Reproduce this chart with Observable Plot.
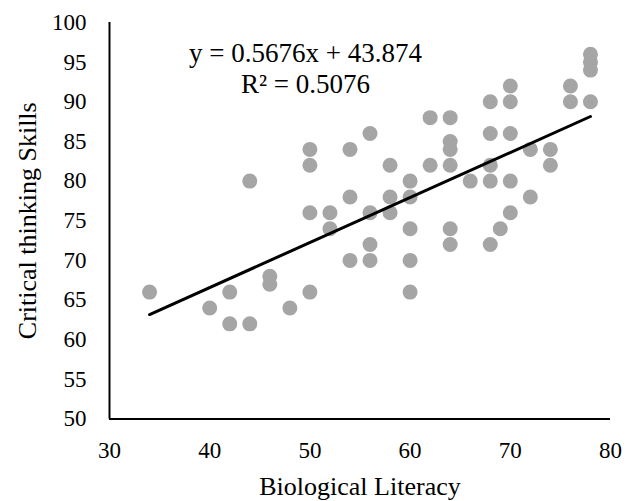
<!DOCTYPE html>
<html><head><meta charset="utf-8">
<script src="https://cdn.jsdelivr.net/npm/d3@7"></script>
<script src="https://cdn.jsdelivr.net/npm/@observablehq/plot@0.6"></script>
<style>body{margin:0;background:#fff}</style>
</head><body><div id="chart"></div>
<script>
const literacy = [34,40,42,42,44,44,46,46,48,50,50,50,50,52,52,54,54,54,56,56,56,56,58,58,58,60,60,60,60,60,62,62,64,64,64,64,64,64,66,68,68,68,68,68,69,70,70,70,70,70,72,72,74,74,76,76,78,78,78,78];
const thinking = [66,64,66,62,80,62,68,67,64,84,82,76,66,76,74,84,78,70,86,76,72,70,82,78,76,80,78,74,70,66,88,82,88,85,84,82,74,72,80,90,86,82,80,72,74,92,90,86,80,76,84,78,84,82,92,90,96,95,94,90];
const xTicks = [30,40,50,60,70,80];
const yTicks = [50,55,60,65,70,75,80,85,90,95,100];
const slope = 0.5676, intercept = 43.874, r2 = 0.5076;
const xTitle = "Biological Literacy";
const yTitle = "Critical thinking Skills";
const eqText = "y = 0.5676x + 43.874";
const r2Text = "R\u00B2 = 0.5076";

const data = literacy.map((x, i) => ({x, y: thinking[i]}));
const xExt = d3.extent(literacy);
const trend = xExt.map(x => ({x, y: slope * x + intercept}));

const chart = Plot.plot({
  width: 638, height: 501,
  marginLeft: 109, marginRight: 28, marginTop: 22, marginBottom: 82.5,
  style: {fontFamily: "'Liberation Serif', 'Times New Roman', serif", fontSize: "23px", color: "black", background: "white"},
  x: {domain: [30, 80]},
  y: {domain: [50, 100]},
  marks: [
    Plot.axisX({ticks: xTicks, tickSize: 0, tickPadding: 23, label: null}),
    Plot.axisY({ticks: yTicks, tickSize: 0, tickPadding: 23, label: null}),
    Plot.dot(data, {x: "x", y: "y", r: 7.5, fill: "#A5A5A5", stroke: "none"}),
    Plot.line(trend, {x: "x", y: "y", stroke: "black", strokeWidth: 3}),
    Plot.ruleX([30], {stroke: "black", strokeWidth: 2}),
    Plot.ruleY([50], {stroke: "black", strokeWidth: 2}),
    Plot.text([xTitle], {text: d => d, frameAnchor: "bottom", textAnchor: "middle", lineAnchor: "middle", dy: 68, fontSize: 26}),
    Plot.text([yTitle], {text: d => d, frameAnchor: "left", textAnchor: "middle", lineAnchor: "middle", rotate: -90, dx: -82, fontSize: 26}),
    Plot.text([eqText], {text: d => d, frameAnchor: "top-left", textAnchor: "middle", lineAnchor: "middle", dx: 196, dy: 30.5, fontSize: 27}),
    Plot.text([r2Text], {text: d => d, frameAnchor: "top-left", textAnchor: "middle", lineAnchor: "middle", dx: 196, dy: 61.5, fontSize: 27})
  ]
});
document.getElementById("chart").appendChild(chart);
</script>
</body></html>
